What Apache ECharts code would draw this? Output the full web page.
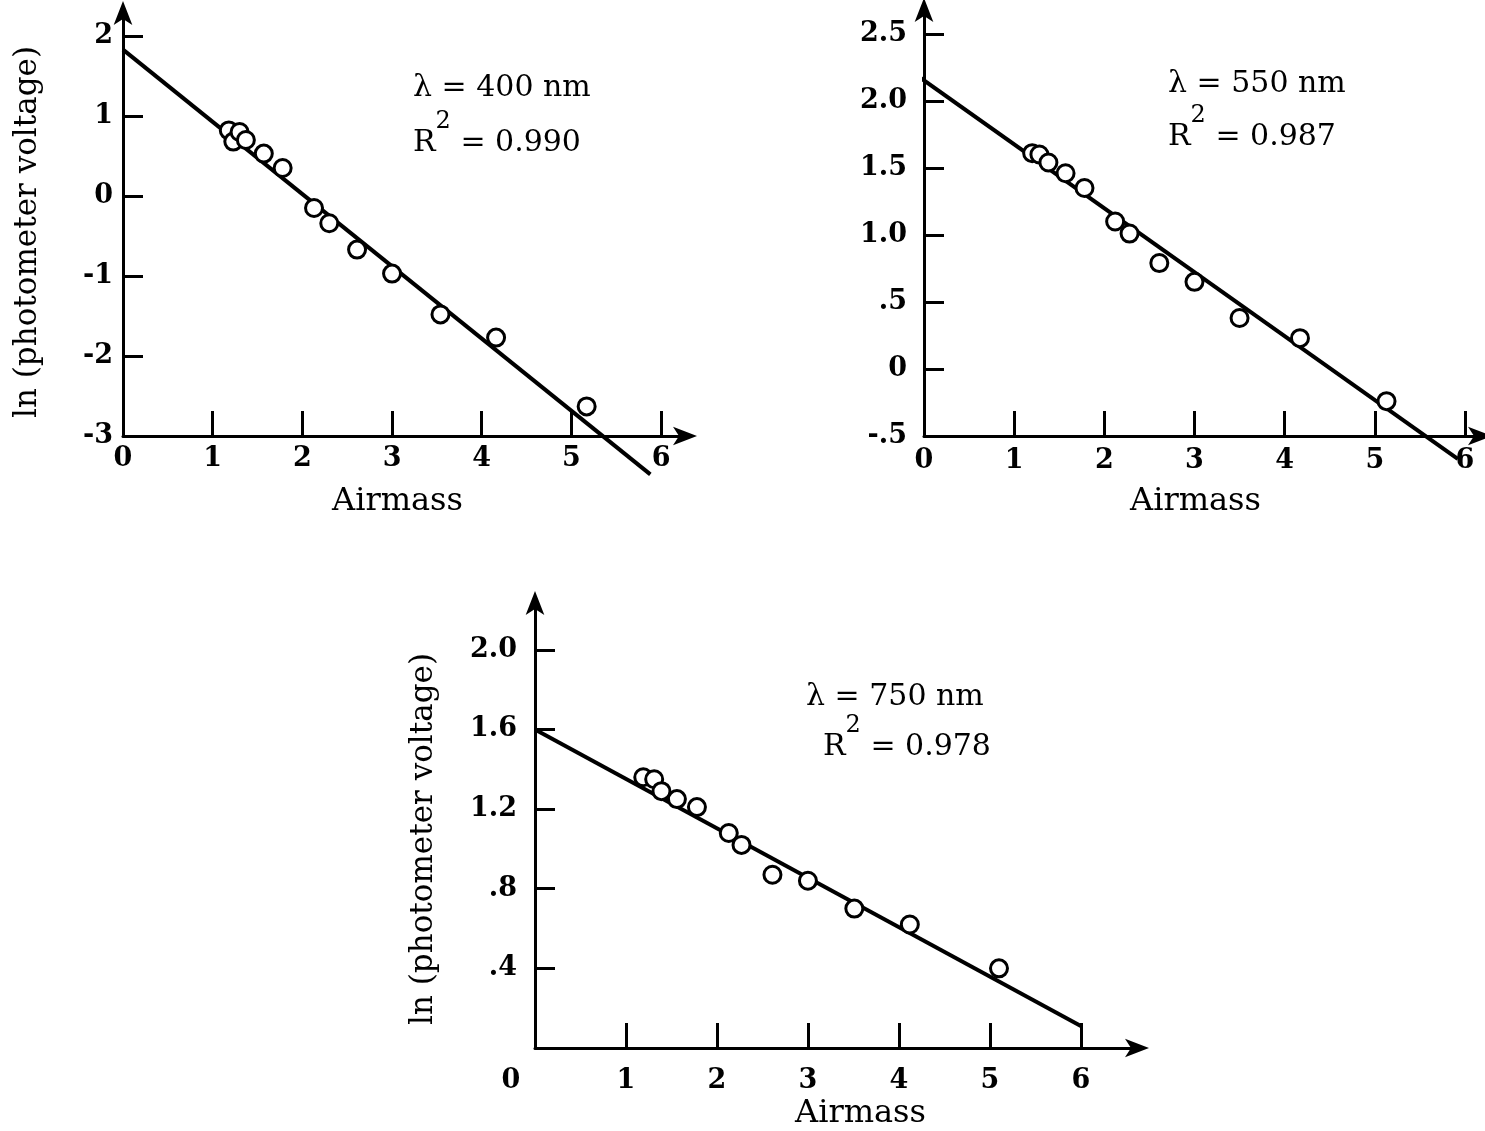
<!DOCTYPE html>
<html>
<head>
<meta charset="utf-8">
<script src="https://cdn.jsdelivr.net/npm/echarts@6/dist/echarts.min.js"></script>
<style>
html, body { margin: 0; padding: 0; background: #fff; }
#chart { width: 1485px; height: 1131px; }
</style>
</head>
<body>
<div id="chart"></div>
<script>
// readings: airmass vs ln(photometer voltage), one set per wavelength
const airmass400 = [1.18, 1.23, 1.30, 1.37, 1.57, 1.78, 2.13, 2.30, 2.61, 3.00, 3.54, 4.16, 5.17];
const lnV400 = [0.82, 0.68, 0.80, 0.70, 0.53, 0.35, -0.15, -0.34, -0.67, -0.97, -1.48, -1.77, -2.63];
const fit400 = [[0, 1.83], [5.88, -3.48]];

const airmass550 = [1.20, 1.28, 1.38, 1.57, 1.78, 2.12, 2.28, 2.61, 3.00, 3.50, 4.17, 5.13];
const lnV550 = [1.61, 1.60, 1.54, 1.46, 1.35, 1.10, 1.01, 0.79, 0.65, 0.38, 0.23, -0.24];
const fit550 = [[-0.12, 2.21], [5.92, -0.67]];

const airmass750 = [1.19, 1.31, 1.39, 1.56, 1.78, 2.13, 2.27, 2.61, 3.00, 3.51, 4.12, 5.10];
const lnV750 = [1.36, 1.35, 1.29, 1.25, 1.21, 1.08, 1.02, 0.87, 0.84, 0.70, 0.62, 0.40];
const fit750 = [[0, 1.6], [6, 0.11]];

// tick positions / labels
const xTicks = [1, 2, 3, 4, 5, 6];
const xLabels = [0, 1, 2, 3, 4, 5, 6];
const yTicks400 = [-2, -1, 0, 1, 2];
const yLabels400 = [-3, -2, -1, 0, 1, 2];
const yTicks550 = [0, 0.5, 1, 1.5, 2, 2.5];
const yLabels550 = [-0.5, 0, 0.5, 1, 1.5, 2, 2.5];
const yTicks750 = [0.4, 0.8, 1.2, 1.6, 2.0];
const yLabels750 = [0.4, 0.8, 1.2, 1.6, 2.0];

const notes = [
  { lambda: 'λ = 400 nm', r2: '0.990', left: 413, top: 73, top2: 110 },
  { lambda: 'λ = 550 nm', r2: '0.987', left: 1168, top: 69, top2: 104 },
  { lambda: 'λ = 750 nm', r2: '0.978', left: 806, top: 682, top2: 714, left2: 823 }
];

const SERIF = '"DejaVu Serif", "Liberation Serif", serif';

function zip(xs, ys) {
  return xs.map((x, i) => [x, ys[i]]);
}

const intLabel = v => String(v);
// one decimal, leading zero dropped: 2.0, .5, -.5
const decLabel = v => {
  if (v === 0) return '0';
  let s = v.toFixed(1);
  if (Math.abs(v) < 1) s = s.replace('0.', '.');
  return s;
};

const axisLine = {
  show: true,
  onZero: false,
  symbol: ['none', 'arrow'],
  symbolSize: [14, 24],
  symbolOffset: [0, 9],
  lineStyle: { color: '#000', width: 3 }
};

const tickFont = { color: '#000', fontFamily: SERIF, fontSize: 27, fontWeight: 'bold' };

function xAxisCfg(gridIndex, max, labelMargin, namePad, zeroShift) {
  return {
    type: 'value', gridIndex, min: 0, max,
    axisLine,
    splitLine: { show: false },
    axisTick: { show: true, inside: true, length: 25, customValues: xTicks, lineStyle: { color: '#000', width: 3 } },
    axisLabel: Object.assign({
      customValues: xLabels, margin: labelMargin,
      formatter: v => (v === 0 && zeroShift) ? '{z|0}' : String(v),
      rich: { z: Object.assign({ padding: [0, zeroShift || 0, 0, 0] }, tickFont) }
    }, tickFont),
    name: 'Airmass', nameLocation: 'middle', nameGap: 50,
    nameTextStyle: { color: '#000', fontFamily: SERIF, fontSize: 32, padding: namePad }
  };
}

function yAxisCfg(gridIndex, min, max, ticks, labels, fmt, labelMargin, name, nameGap, namePad) {
  return {
    type: 'value', gridIndex, min, max,
    axisLine,
    splitLine: { show: false },
    axisTick: { show: true, inside: true, length: 20, customValues: ticks, lineStyle: { color: '#000', width: 3 } },
    axisLabel: Object.assign({ customValues: labels, margin: labelMargin, formatter: fmt }, tickFont),
    name, nameLocation: 'middle', nameRotate: 90, nameGap,
    nameTextStyle: { color: '#000', fontFamily: SERIF, fontSize: 31, padding: namePad }
  };
}

function pointSeries(idx, data) {
  return {
    type: 'scatter', xAxisIndex: idx, yAxisIndex: idx, data,
    symbol: 'circle', symbolSize: 17, z: 3,
    itemStyle: { color: '#fff', borderColor: '#000', borderWidth: 3, opacity: 1 }
  };
}

function fitSeries(idx, data) {
  return {
    type: 'line', xAxisIndex: idx, yAxisIndex: idx, data,
    clip: false, showSymbol: false, symbol: 'none', z: 2,
    lineStyle: { color: '#000', width: 4 }
  };
}

const graphic = [];
notes.forEach(n => {
  graphic.push({
    type: 'text', left: n.left, top: n.top,
    style: { text: n.lambda, fill: '#000', font: '30px ' + SERIF }
  });
  graphic.push({
    type: 'text', left: n.left2 || n.left, top: n.top2,
    style: {
      text: '{r|R}{s|2}{r| = ' + n.r2 + '}',
      fill: '#000', font: '30px ' + SERIF,
      rich: {
        r: { fontSize: 30, fontFamily: SERIF, lineHeight: 30, verticalAlign: 'bottom', fill: '#000' },
        s: { fontSize: 24, fontFamily: SERIF, lineHeight: 24, verticalAlign: 'bottom', padding: [0, 0, 24, 0], fill: '#000' }
      }
    }
  });
});

const chart = echarts.init(document.getElementById('chart'), null, { renderer: 'canvas' });
chart.setOption({
  backgroundColor: '#fff',
  animation: false,
  grid: [
    { left: 123, top: 10, width: 565, height: 426 },
    { left: 924, top: 7, width: 559, height: 429 },
    { left: 535, top: 600, width: 605, height: 450 }
  ],
  xAxis: [
    xAxisCfg(0, 6.3, 9, [0, 16, 0, 0]),
    xAxisCfg(1, 6.2, 11, [0, 16, 0, 0]),
    xAxisCfg(2, 6.65, 19, [0, 0, 0, 46], 48)
  ],
  yAxis: [
    yAxisCfg(0, -3, 2.325, yTicks400, yLabels400, intLabel, 10, 'ln (photometer voltage)', 80, [0, 18, 0, 0]),
    yAxisCfg(1, -0.5, 2.7, yTicks550, yLabels550, decLabel, 17, '', 0, 0),
    yAxisCfg(2, 0, 2.25, yTicks750, yLabels750, decLabel, 18, 'ln (photometer voltage)', 96, [0, 30, 0, 0])
  ],
  series: [
    fitSeries(0, fit400), pointSeries(0, zip(airmass400, lnV400)),
    fitSeries(1, fit550), pointSeries(1, zip(airmass550, lnV550)),
    fitSeries(2, fit750), pointSeries(2, zip(airmass750, lnV750))
  ],
  graphic
});
</script>
</body>
</html>
